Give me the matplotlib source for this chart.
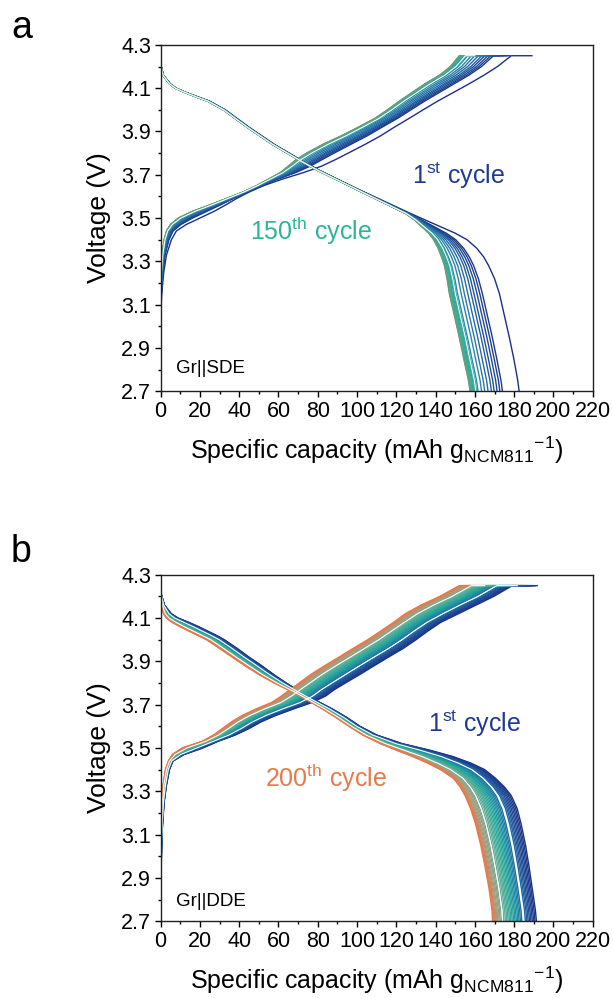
import numpy as np
import matplotlib
matplotlib.use("Agg")
import matplotlib.pyplot as plt
from matplotlib.colors import LinearSegmentedColormap
from matplotlib.ticker import MultipleLocator

plt.rcParams['font.family'] = ['Liberation Sans', 'DejaVu Sans']
plt.rcParams['mathtext.fontset'] = 'custom'
plt.rcParams['mathtext.rm'] = 'Liberation Sans'
plt.rcParams['mathtext.it'] = 'Liberation Sans:italic'

# voltage grids the capacities below were read at
chg_v_a = [3.05, 3.15, 3.25, 3.33, 3.40, 3.44, 3.47, 3.50, 3.53, 3.56, 3.59, 3.62, 3.65, 3.68, 3.71,
           3.74, 3.77, 3.80, 3.84, 3.88, 3.92, 3.96, 4.00, 4.04, 4.08, 4.12, 4.16, 4.20, 4.25]
chg_v_b = [2.75] + chg_v_a
dis_v_a = [4.21, 4.16, 4.12, 4.10, 4.08, 4.06, 4.04, 4.02, 4.00, 3.96, 3.92, 3.88, 3.84, 3.80, 3.76,
           3.72, 3.68, 3.64, 3.60, 3.56, 3.52, 3.49, 3.46, 3.43, 3.40, 3.36, 3.32, 3.28, 3.22, 3.15,
           3.05, 2.95, 2.85, 2.75, 2.70]
dis_v_b = [4.25] + dis_v_a

# ---- panel a (Gr||SDE): 1st and 150th cycle ----
a_chg_first = [0, 0.6, 1.6, 3, 5.5, 8, 13, 20, 27, 33, 38.6, 45, 52.5, 62, 72.7, 82, 89, 95.5, 104, 112,
               119, 126.4, 133.6, 141, 149, 157, 164.6, 171.5, 178.5]
a_chg_last = [0, 0, 0.3, 0.8, 1.8, 3, 5, 9, 16, 25, 33.5, 42, 49, 55, 61, 65, 69, 74.3, 82.5, 92,
              100.7, 109, 115.5, 121.5, 128, 134.5, 142, 147.5, 152]
a_cv_end = [189, 156]
a_dis_first = [0, 1.5, 5, 8, 13, 19, 25, 29, 33, 39, 45, 51.5, 58, 65.5, 73, 81, 90, 99, 108.5, 118,
               127.5, 135, 142.5, 150, 156, 161, 164.5, 167, 170, 172.5, 175, 177.5, 179.8, 181.8, 182.5]
a_dis_last = [0, 1.2, 4.5, 7.5, 12.5, 18, 24, 28, 32, 38, 44, 50.5, 57, 64.5, 72, 80, 89, 98, 107, 116,
              125, 129.5, 133, 136.5, 139, 141.3, 143, 144.5, 145.8, 147, 149.5, 152, 154.3, 156.7, 157.5]

# discharge end capacity of every drawn cycle (1st ... 150th)
a_ends = [182.5, 174, 172.7, 171.3, 169.8, 168.4, 166.7, 165, 163.4, 161.6, 160.8,
          160.2, 159.6, 159.1, 158.7, 158.4, 158.1, 157.9, 157.7, 157.5]
a_white_ends = [160.5]
a_colors = ['#1c2f86', '#1f4f98', '#2a7fae', '#22a79a', '#3fae98', '#6a9c80']

# ---- panel b (Gr||DDE): 1st and 200th cycle ----
b_chg_first = [0, 0.5, 1, 1.8, 3, 4.5, 6.3, 12, 21.5, 29, 38, 45, 51, 58.5, 67.5, 77, 84, 88.5, 94,
               101.5, 108.7, 116, 123.5, 130, 136, 142.5, 151.5, 160.5, 169.5, 179]
b_chg_last = [0, 0, 0.2, 0.6, 1.3, 2.5, 4, 6, 11, 21, 27, 31.5, 36, 41.5, 48.5, 56.5, 61.5, 66, 70.5,
              76.5, 83.5, 90.8, 98, 105.4, 112, 118.5, 124.5, 132.5, 142, 152]
b_cv_end = [191.7, 157]
b_dis_first = [0, 0.3, 2, 5.5, 9, 14.5, 19.5, 24, 28.5, 32.5, 39, 45, 51.5, 57.5, 64, 71, 79, 87.5,
               95, 101.5, 110, 123, 137, 149, 158, 165, 170.5, 175, 178.5, 181.5, 183.5, 185.8,
               187.6, 189.2, 190.8, 191.3]
b_dis_last = [0, 0.1, 0.5, 1.5, 3, 6, 10, 14.5, 19, 23.5, 30, 36.5, 43, 50, 58, 67, 75, 82.5, 89.5,
              96, 103, 112, 120, 128.5, 136, 142.5, 149, 152.5, 155, 157.8, 160.3, 163, 165.2, 167.2,
              168.7, 169]

b_ends = [191.3, 190.6, 189.9, 189.2, 188.5, 187.8, 187.1, 186.4, 185.7,
          183.9, 183.2, 182.5, 181.8, 181.1, 180.4, 179.7, 179.0, 178.3, 177.6,
          176.9, 176.2, 175.5, 174.7, 173.5, 172.9, 172.3, 171.7, 171.2,
          170.7, 170.2, 169.8, 169.4, 169.0]
b_white_ends = [184.8, 174.1]
b_colors = ['#1c2f86', '#1f4f98', '#1f7fa8', '#22a89a', '#5fae98', '#a6a082', '#e8794a']


def blend(first, last, w):
    return (1 - w) * np.asarray(first, float) + w * np.asarray(last, float)


def draw_panel(ax, chg_v, chg_f, chg_l, cv_end, dis_v, dis_f, dis_l, ends, white_ends, colors):
    cmap = LinearSegmentedColormap.from_list('cyc', colors)
    e0, e1 = dis_f[-1], dis_l[-1]
    curves = [(e, cmap(i / (len(ends) - 1)), 1.0) for i, e in enumerate(ends)]
    curves += [(e, 'white', 0.8) for e in white_ends]
    for e, c, lw in curves:
        w = (e0 - e) / (e0 - e1)
        cx = blend(chg_f, chg_l, w)
        cend = (1 - w) * cv_end[0] + w * cv_end[1]
        ax.plot(np.append(cx, cend), np.append(chg_v, chg_v[-1]), color=c, lw=lw)
        ax.plot(blend(dis_f, dis_l, w), dis_v, color=c, lw=lw)

    ax.set_xlim(0, 220)
    ax.set_ylim(2.7, 4.3)
    ax.xaxis.set_major_locator(MultipleLocator(20))
    ax.xaxis.set_minor_locator(MultipleLocator(10))
    ax.set_yticks([2.7, 2.9, 3.1, 3.3, 3.5, 3.7, 3.9, 4.1, 4.3])
    ax.yaxis.set_minor_locator(MultipleLocator(0.1))
    ax.tick_params(which='major', direction='out', length=4, width=1, labelsize=15.5, pad=3)
    ax.tick_params(which='minor', direction='out', length=2.5, width=1)
    for s in ax.spines.values():
        s.set_linewidth(1)
        s.set_color('#222222')
    ax.set_xlabel('Specific capacity (mAh g$_{\\mathrm{NCM811}}$$^{\\mathrm{-1}}$)', fontsize=18, labelpad=9)
    ax.set_ylabel('Voltage (V)', fontsize=19, labelpad=7)


fig = plt.figure(figsize=(6.13, 9.98), dpi=100)
ax_a = fig.add_axes([0.262, 0.608, 0.705, 0.347])
ax_b = fig.add_axes([0.262, 0.077, 0.705, 0.347])

draw_panel(ax_a, chg_v_a, a_chg_first, a_chg_last, a_cv_end, dis_v_a, a_dis_first, a_dis_last,
           a_ends, a_white_ends, a_colors)
draw_panel(ax_b, chg_v_b, b_chg_first, b_chg_last, b_cv_end, dis_v_b, b_dis_first, b_dis_last,
           b_ends, b_white_ends, b_colors)

ax_a.text(128, 3.657, '1$^{\\mathrm{st}}$ cycle', color='#1f3a93', fontsize=18)
ax_a.text(45.4, 3.40, '150$^{\\mathrm{th}}$ cycle', color='#2ab59c', fontsize=18)
ax_a.text(8, 2.785, 'Gr||SDE', fontsize=13.5)

ax_b.text(136, 3.575, '1$^{\\mathrm{st}}$ cycle', color='#1f3a93', fontsize=18)
ax_b.text(53, 3.32, '200$^{\\mathrm{th}}$ cycle', color='#e8794a', fontsize=18)
ax_b.text(8, 2.77, 'Gr||DDE', fontsize=13.5)

fig.text(0.018, 0.962, 'a', fontsize=27)
fig.text(0.018, 0.437, 'b', fontsize=27)

fig.savefig('out.png', dpi=100)
